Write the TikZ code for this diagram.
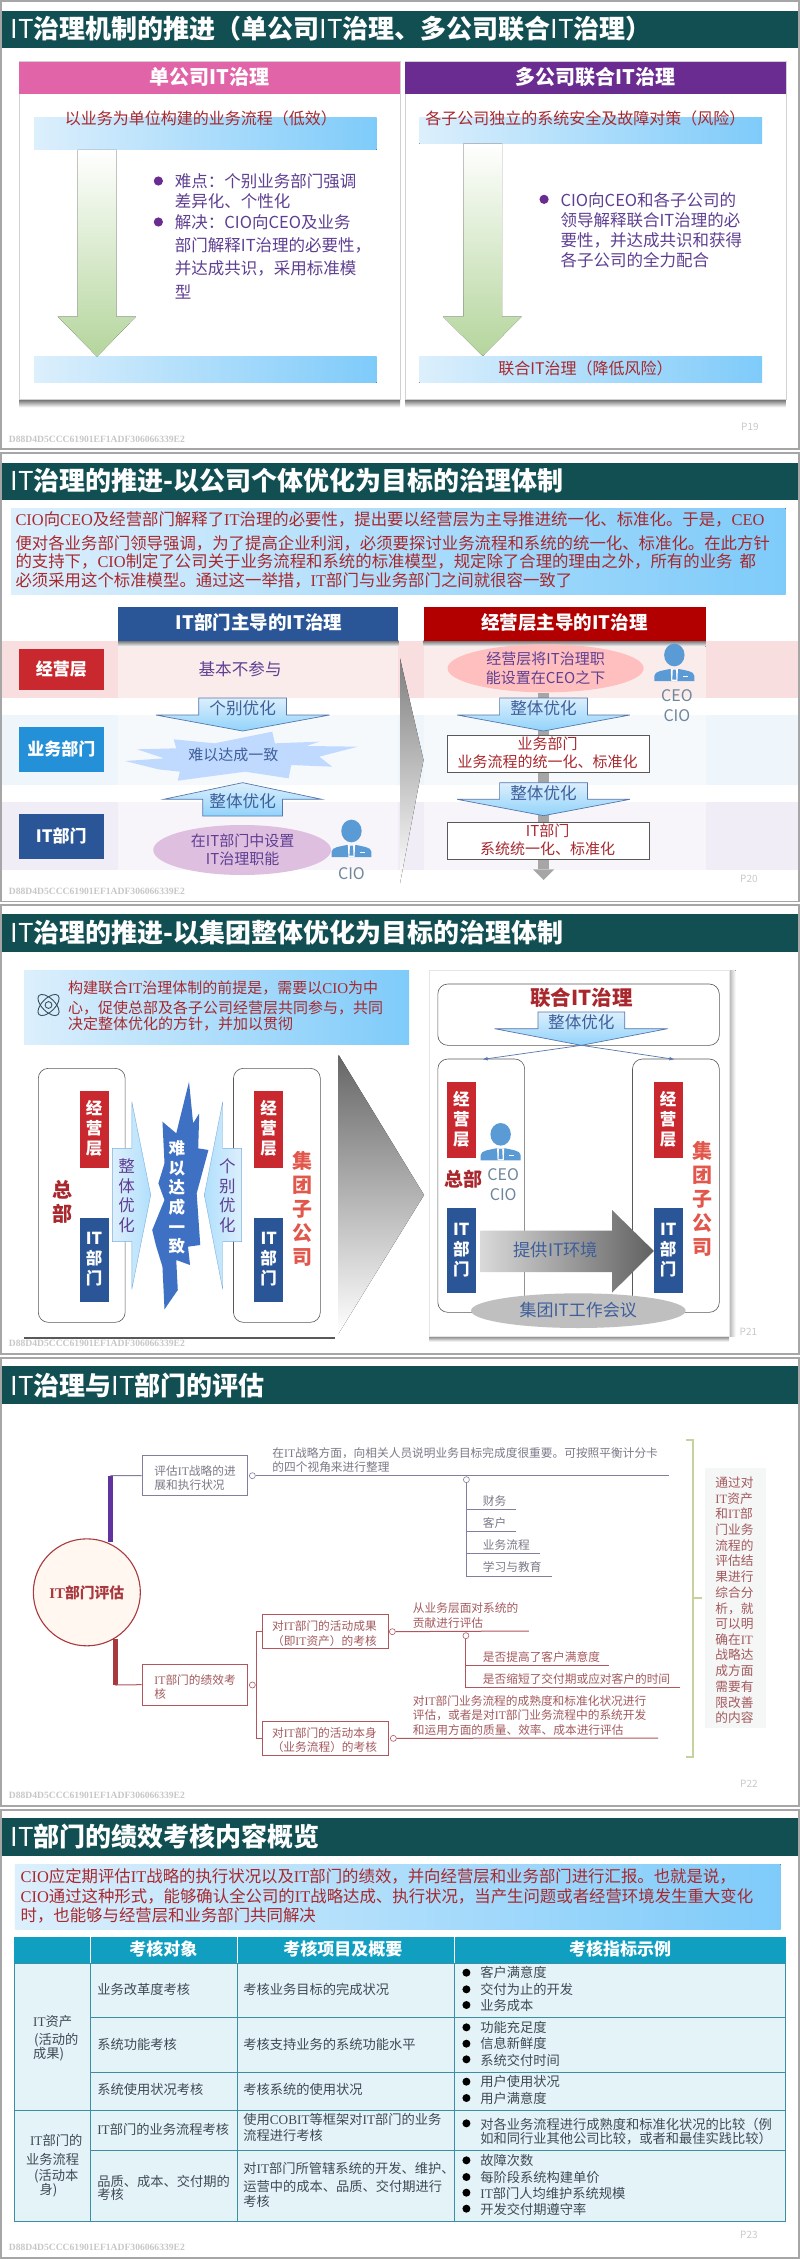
\documentclass[tikz,border=0pt]{standalone}
\usepackage{fontspec}
\setmainfont{Noto Sans CJK SC}
\newfontfamily\latf{Liberation Serif}
\usetikzlibrary{shapes.geometric,fit,calc}
\definecolor{titlebar}{HTML}{124F53}
\definecolor{frameg}{HTML}{A6A6A6}
\definecolor{pnkh}{HTML}{E264A8}
\definecolor{purh}{HTML}{6A2C91}
\definecolor{barl}{HTML}{DCEFFC}
\definecolor{barr}{HTML}{7ECBFA}
\definecolor{redt}{HTML}{A8282E}
\definecolor{purt}{HTML}{5F3F92}
\definecolor{navy}{HTML}{2A5597}
\definecolor{bluet}{HTML}{3F5F9A}
\definecolor{grn}{HTML}{B4D59C}
\definecolor{redb}{HTML}{C8282E}
\definecolor{corp}{HTML}{E2574C}
\definecolor{persn}{HTML}{5B9BD5}
\definecolor{gryt}{HTML}{7A7A88}
\definecolor{redg}{HTML}{A35A5E}
\definecolor{lnpur}{HTML}{7F7F9F}
\definecolor{lnred}{HTML}{B0565C}
\definecolor{rootr}{HTML}{A8393E}
\definecolor{tealh}{HTML}{109FC0}
\definecolor{tbody}{HTML}{E4F3F7}
\definecolor{tline}{HTML}{3A8FA3}
\definecolor{tabt}{HTML}{3F4A55}
\definecolor{thnc}{HTML}{70869C}
\definecolor{band1}{HTML}{F8DEDE}
\definecolor{band2}{HTML}{EEF5FB}
\definecolor{band3}{HTML}{F1EDF7}
\definecolor{burst}{HTML}{3E71C3}
\definecolor{atomc}{HTML}{37505F}
\definecolor{olv}{HTML}{C4D29B}
\newcommand\fz[1]{\fontsize{#1}{#1}\selectfont}
\newcommand\la[1]{{\latf #1}}
\tikzset{
  zs/.style={x=0.51086pt,y=-0.33333pt},
  lt/.style={anchor=west,inner sep=0pt},
  ct/.style={inner sep=0pt},
  ttl/.style={lt,white,font=\fz{26}\bfseries},
  pgnum/.style={ct,frameg!60,font=\fz{10}},
  wmk/.style={lt,black!22,font=\latf\bfseries\fz{9.6}},
  hdr/.style={ct,white,font=\fz{20}\bfseries},
  s1red/.style={ct,redt,font=\fz{16}},
  s1pur/.style={lt,purt,font=\fz{16.5}},
  bararrow/.style={draw=#1,line width=.7pt,top color=barl,bottom color=barr!85!white},
  arlab/.style={ct,bluet,font=\fz{16.6}},
  rowl/.style={ct,white,font=\fz{17}\bfseries},
  para/.style={lt,redt,font=\fz{16.4}},
  thn/.style={ct,thnc,font=\fz{16}},
  txa/.style={ct,purt,font=\fz{15}},
  txb/.style={ct,redt,font=\fz{15}},
  hd2/.style={ct,white,font=\fz{18.5}\bfseries},
  vert/.style={ct,align=center,white,font=\fontsize{16.5}{20}\selectfont\bfseries},
  vbig/.style={ct,align=center,font=\fontsize{20}{24}\selectfont\bfseries},
  rnd/.style={draw=black!65,line width=.6pt,rounded corners=10pt},
  sg/.style={lt,gryt,font=\fz{11.7}},
  sr/.style={lt,redg,font=\fz{11.7}},
  sc/.style={ct,redg,font=\fz{11.7}},
  bx/.style={inner sep=0pt,line width=1pt,fit={#1}},
  tb/.style={lt,tabt,font=\fz{13.25}},
  tc/.style={ct,tabt,font=\fz{13.25}},
  th/.style={ct,white,font=\fz{17}\bfseries},
  side/.style={lt,redg,font=\fz{12.7}},
  p3/.style={lt,redt,font=\fz{15}},
  dot/.style={circle,draw=#1,fill=white,minimum size=6pt,inner sep=0pt,line width=.6pt},
}
\newcommand\person[2]{%
  \begin{scope}[shift={(#1,#2)}]
    \fill[persn] (0,0) ellipse [x radius=20,y radius=34];
    \fill[persn] (-39,78) -- (-39,62) .. controls (-39,48) and (-20,46) .. (-9,42) -- (9,42) .. controls (20,46) and (39,48) .. (39,62) -- (39,78) -- cycle;
    \fill[white] (-7,42) -- (7,42) -- (6,78) -- (-6,78) -- cycle;
    \fill[persn] (-3,44) -- (3,44) -- (4,74) -- (-4,74) -- cycle;
    \fill[white] (17,62) rectangle (27,65);
  \end{scope}}
\newcommand\bull[3]{\fill[#1] (#2,#3) circle [radius=4.6pt];}
\newcommand\blt[2]{\fill[black] (#1,#2) circle [radius=4pt];}
\begin{document}
\begin{tikzpicture}[x=1pt,y=1pt]
\useasboundingbox (0,0) rectangle (800,-2259);
\fill[white] (0,0) rectangle (800,-2259);
% ---------- frames
\draw[frameg,line width=1.8pt] (1,-1) rectangle (799,-449);
\draw[frameg,line width=1.8pt] (1,-453) rectangle (799,-901.5);
\draw[frameg,line width=1.8pt] (1,-905) rectangle (799,-1354);
\draw[frameg,line width=1.8pt] (1,-1358) rectangle (799,-1806);
\draw[frameg,line width=1.8pt] (1,-1810) rectangle (799,-2258);
% ========== SLIDE 1
\begin{scope}[zs]
\fill[titlebar] (4,32) rectangle (1562,145);
\node[ttl] (s1title) at (20,85) {{\mdseries IT}治理机制的推进（单公司{\mdseries IT}治理、多公司联合{\mdseries IT}治理）};
\fill[top color=black!60,bottom color=white] (38,1197) rectangle (783,1222);
\fill[top color=black!60,bottom color=white] (793,1197) rectangle (1538,1222);
\draw[black!18,fill=white] (38,185) rectangle (783,1197);
\draw[black!18,fill=white] (793,185) rectangle (1538,1197);
\fill[pnkh] (38,185) rectangle (783,282);
\fill[purh] (793,185) rectangle (1538,282);
\node[hdr] (s1ha) at (410,230) {单公司IT治理};
\node[hdr] (s1hb) at (1165,230) {多公司联合IT治理};
\fill[left color=barl,right color=barr] (67,353) rectangle (737,450);
\fill[left color=barl,right color=barr] (67,1071) rectangle (737,1148);
\fill[left color=barl,right color=barr] (821,353) rectangle (1492,431);
\fill[left color=barl,right color=barr] (821,1071) rectangle (1492,1148);
\fill[top color=white,bottom color=grn] (152,450) -- (228,450) -- (228,950) -- (266,950) -- (190,1070) -- (113,950) -- (152,950) -- cycle;
\fill[top color=white,bottom color=grn] (907,431) -- (983,431) -- (983,950) -- (1021,950) -- (945,1068) -- (867,950) -- (907,950) -- cycle;
\node[s1red] (s1a) at (393,355) {以业务为单位构建的业务流程（低效）};
\node[s1red] (s1b) at (1146,355) {各子公司独立的系统安全及故障对策（风险）};
\node[s1red] (s1c) at (1146,1105) {联合IT治理（降低风险）};
\bull{purh}{310}{543}
\bull{purh}{310}{666}
\bull{purh}{1065}{598}
\node[s1pur] (s1l1) at (342,545) {难点：个别业务部门强调};
\node[s1pur] (s1l2) at (342,603) {差异化、个性化};
\node[s1pur] (s1l3) at (342,668) {解决：CIO向CEO及业务};
\node[s1pur] (s1l4) at (342,737) {部门解释IT治理的必要性，};
\node[s1pur] (s1l5) at (342,806) {并达成共识，采用标准模};
\node[s1pur] (s1l6) at (342,876) {型};
\node[s1pur] (s1r1) at (1097,600) {CIO向CEO和各子公司的};
\node[s1pur] (s1r2) at (1097,660) {领导解释联合IT治理的必};
\node[s1pur] (s1r3) at (1097,720) {要性，并达成共识和获得};
\node[s1pur] (s1r4) at (1097,780) {各子公司的全力配合};
\node[pgnum] (s1p) at (1468,1281) {P19};
\node[wmk] (s1w) at (17,1318) {D88D4D5CCC61901EF1ADF306066339E2};
\end{scope}
% ========== SLIDE 2
\begin{scope}[zs,yshift=-450pt]
\fill[titlebar] (4,38) rectangle (1562,150);
\node[ttl] (s2title) at (20,92) {{\mdseries IT}治理的推进-以公司个体优化为目标的治理体制};
\fill[left color=barl,right color=barr] (22,175) rectangle (1538,432);
\node[para] (s2p1) at (30,208) {\la{CIO}向\la{CEO}及经营部门解释了\la{IT}治理的必要性，提出要以经营层为主导推进统一化、标准化。于是，\la{CEO}};
\node[para] (s2p2) at (30,280) {便对各业务部门领导强调，为了提高企业利润，必须要探讨业务流程和系统的统一化、标准化。在此方针};
\node[para] (s2p3) at (30,335) {的支持下，\la{CIO}制定了公司关于业务流程和系统的标准模型，规定除了合理的理由之外，所有的业务\hspace*{7pt}都};
\node[para] (s2p4) at (30,390) {必须采用这个标准模型。通过这一举措，\la{IT}部门与业务部门之间就很容一致了};
% bands
\fill[band1] (4,572) rectangle (1562,745);
\fill[band2] (4,795) rectangle (1562,1005);
\fill[band3] (4,1055) rectangle (1562,1260);
\fill[white,opacity=.45] (231,572) rectangle (780,1300);
\fill[white,opacity=.45] (829,572) rectangle (1381,1300);
% headers
\fill[top color=black!55,bottom color=white] (231,572) rectangle (780,590);
\fill[top color=black!55,bottom color=white] (829,572) rectangle (1381,590);
\fill[navy] (231,472) rectangle (780,572);
\fill[red!70!black] (829,472) rectangle (1381,572);
\node[hd2] (s2ha) at (507,517) {IT部门主导的IT治理};
\node[hd2] (s2hb) at (1105,517) {经营层主导的IT治理};
\fill[redb] (38,596) rectangle (203,719);
\fill[cyan!70!blue!90!white] (38,831) rectangle (203,967);
\fill[navy] (38,1092) rectangle (203,1227);
\node[rowl] (s2r1) at (120,657) {经营层};
\node[rowl] (s2r2) at (120,897) {业务部门};
\node[rowl] (s2r3) at (120,1157) {IT部门};
% left column
\node[ct,purt,font=\fz{16.6}] (s2n) at (470,657) {基本不参与};
\path[bararrow=navy!80] (389,744) -- (561,744) -- (561,795) -- (645,795) -- (475,843) -- (305,795) -- (389,795) -- cycle;
\node[arlab] (s2a1) at (475,775) {个别优化};
\fill[blue!60!cyan!25!white] (245,933) -- (322,925) -- (268,898) -- (345,895) -- (340,868) -- (420,880) -- (533,845) -- (538,880) -- (625,875) -- (600,888) -- (700,890) -- (625,920) -- (650,950) -- (570,945) -- (565,985) -- (480,965) -- (348,992) -- (352,965) -- (310,958) -- cycle;
\node[ct,bluet,font=\fz{15}] (s2b) at (457,915) {难以达成一致};
\path[bararrow=navy!80] (475,998) -- (630,1048) -- (553,1048) -- (553,1098) -- (397,1098) -- (397,1048) -- (320,1048) -- cycle;
\node[arlab] (s2a2) at (475,1053) {整体优化};
\fill[violet!25!white] (474,1200) ellipse [x radius=174,y radius=75];
\node[txa] (s2e1) at (475,1172) {在IT部门中设置};
\node[txa] (s2e2) at (475,1225) {IT治理职能};
\person{688}{1143}
\node[thn] (s2c) at (688,1272) {CIO};
% chevron
\fill[top color=black!50,bottom color=white] (783,625) -- (829,930) -- (783,1300) -- cycle;
% right column
\fill[black!35] (1053,730) rectangle (1075,1258);
\fill[black!35] (1043,1258) -- (1085,1258) -- (1064,1290) -- cycle;
\fill[red!25!white] (1068,655) ellipse [x radius=192,y radius=72];
\node[txa] (s2e3) at (1068,627) {经营层将IT治理职};
\node[txa] (s2e4) at (1068,682) {能设置在CEO之下};
\person{1320}{615}
\node[thn] (s2d1) at (1325,738) {CEO};
\node[thn] (s2d2) at (1325,798) {CIO};
\path[bararrow=navy!80] (978,744) -- (1150,744) -- (1150,795) -- (1233,795) -- (1064,843) -- (895,795) -- (978,795) -- cycle;
\node[arlab] (s2a3) at (1064,775) {整体优化};
\path[bararrow=navy!80] (978,998) -- (1150,998) -- (1150,1048) -- (1233,1048) -- (1064,1097) -- (895,1048) -- (978,1048) -- cycle;
\node[arlab] (s2a4) at (1064,1030) {整体优化};
\draw[black!65,fill=white,line width=.7pt] (875,856) rectangle (1271,968);
\draw[black!65,fill=white,line width=.7pt] (875,1116) rectangle (1271,1228);
\node[txb] (s2f1) at (1072,882) {业务部门};
\node[txb] (s2f2) at (1072,935) {业务流程的统一化、标准化};
\node[txb] (s2f3) at (1072,1142) {IT部门};
\node[txb] (s2f4) at (1072,1195) {系统统一化、标准化};
\node[pgnum] (s2p) at (1466,1288) {P20};
\node[wmk] (s2w) at (17,1325) {D88D4D5CCC61901EF1ADF306066339E2};
\end{scope}
% ========== SLIDE 3
\begin{scope}[zs,yshift=-900pt]
\fill[titlebar] (4,42) rectangle (1562,157);
\node[ttl] (s3title) at (20,98) {{\mdseries IT}治理的推进-以集团整体优化为目标的治理体制};
\fill[left color=barl,right color=barr] (47,210) rectangle (801,434);
\begin{scope}[shift={(95,315)},x=1pt,y=1pt,atomc,line width=.9pt]
  \draw (0,0) circle [radius=3.4];
  \draw[rotate=45] (0,0) ellipse [x radius=13.5,y radius=6.5];
  \draw[rotate=-45] (0,0) ellipse [x radius=13.5,y radius=6.5];
\end{scope}
\node[p3] (s3p1) at (133,263) {构建联合\la{IT}治理体制的前提是，需要以\la{CIO}为中};
\node[p3] (s3p2) at (133,323) {心，促使总部及各子公司经营层共同参与，共同};
\node[p3] (s3p3) at (133,372) {决定整体优化的方针，并加以贯彻};
% left panel
\fill[black!65] (47,1308) rectangle (655,1316);
\fill[white] (47,460) rectangle (655,1310);
\draw[rnd] (75,505) rectangle (245,1267);
\draw[rnd] (457,505) rectangle (627,1267);
\fill[redb] (156,573) rectangle (213,803);
\fill[navy] (156,954) rectangle (213,1207);
\fill[redb] (497,573) rectangle (554,803);
\fill[navy] (497,954) rectangle (554,1207);
\node[vert] (s3a1) at (184,685) {经\\营\\层};
\node[vert] (s3a2) at (184,1078) {IT\\部\\门};
\node[vert] (s3a3) at (526,685) {经\\营\\层};
\node[vert] (s3a4) at (526,1078) {IT\\部\\门};
\node[vbig,redt] (s3zb) at (122,907) {总\\部};
\node[vbig,corp] (s3jt) at (592,927) {集\\团\\子\\公\\司};
\path[draw=persn!80,left color=barl,right color=barr!60!white] (220,745) -- (258,745) -- (258,605) -- (295,885) -- (258,1168) -- (258,1025) -- (220,1025) -- cycle;
\path[draw=persn!80,left color=barr!60!white,right color=barl] (473,745) -- (436,745) -- (436,605) -- (400,885) -- (436,1168) -- (436,1025) -- (473,1025) -- cycle;
\node[ct,align=center,purt,font=\fontsize{16.5}{19.4}\selectfont] (s3y1) at (248,887) {整\\体\\优\\化};
\node[ct,align=center,purt,font=\fontsize{16.5}{19.4}\selectfont] (s3y2) at (445,887) {个\\别\\优\\化};
\fill[burst] (370,545) -- (378,670) -- (390,640) -- (388,745) -- (408,750) -- (385,880) -- (392,1035) -- (368,1040) -- (372,1095) -- (345,1080) -- (348,1170) -- (322,1228) -- (318,1100) -- (305,1035) -- (298,990) -- (322,900) -- (310,850) -- (322,790) -- (318,665) -- (345,700) -- cycle;
\node[ct,align=center,white,font=\fontsize{16.5}{19.7}\selectfont\bfseries] (s3d) at (346,892) {难\\以\\达\\成\\一\\致};
\fill[top color=black!60,bottom color=white] (663,465) -- (830,885) -- (663,1300) -- cycle;
% right panel
\fill[top color=black!50,bottom color=white] (840,1308) rectangle (1427,1325);
\fill[left color=black!30,right color=white] (1427,210) rectangle (1440,1308);
\fill[white] (840,210) rectangle (1427,1308);
\draw[black!10] (840,210) rectangle (1427,1308);
\draw[rnd] (857,252) rectangle (1408,436);
\draw[rnd] (857,477) rectangle (1027,1237);
\draw[rnd] (1238,477) rectangle (1408,1237);
\node[ct,redt,font=\fz{20.5}\bfseries] (s3u) at (1138,293) {联合IT治理};
\path[bararrow=navy!80] (1053,336) -- (1223,336) -- (1223,386) -- (1307,386) -- (1138,436) -- (968,386) -- (1053,386) -- cycle;
\node[arlab] (s3u2) at (1138,368) {整体优化};
\coordinate (s3c) at (1138,436);
\coordinate (s3c1) at (945,478);
\coordinate (s3c2) at (1320,478);
\draw[navy!80,line width=.7pt,-latex] (s3c) -- (s3c1);
\draw[navy!80,line width=.7pt,-latex] (s3c) -- (s3c2);
\fill[redb] (875,545) rectangle (932,775);
\fill[navy] (875,925) rectangle (932,1178);
\fill[redb] (1280,545) rectangle (1336,775);
\fill[navy] (1280,925) rectangle (1336,1178);
\node[vert] (s3b1) at (903,657) {经\\营\\层};
\node[vert] (s3b2) at (903,1050) {IT\\部\\门};
\node[vert] (s3b3) at (1308,657) {经\\营\\层};
\node[vert] (s3b4) at (1308,1050) {IT\\部\\门};
\person{980}{703}
\node[thn] (s3g1) at (985,825) {CEO};
\node[thn] (s3g2) at (985,885) {CIO};
\node[ct,redt,font=\fz{19}\bfseries] (s3zb2) at (908,838) {总部};
\node[vbig,corp] (s3jt2) at (1375,897) {集\\团\\子\\公\\司};
\path[left color=black!15,right color=black!62] (941,992) -- (1198,992) -- (1198,930) -- (1280,1053) -- (1198,1178) -- (1198,1116) -- (941,1116) -- cycle;
\node[ct,bluet,font=\fz{17.3}] (s3v) at (1088,1050) {提供IT环境};
\fill[black!25] (1132,1232) ellipse [x radius=210,y radius=52];
\node[ct,bluet,font=\fz{17}] (s3w) at (1132,1230) {集团IT工作会议};
\node[pgnum] (s3p) at (1465,1295) {P21};
\node[wmk] (s3wm) at (17,1330) {D88D4D5CCC61901EF1ADF306066339E2};
\end{scope}
% ========== SLIDE 4
\begin{scope}[zs,yshift=-1350pt]
\fill[titlebar] (4,48) rectangle (1562,162);
\node[ttl] (s4title) at (20,105) {{\mdseries IT}治理与{\mdseries IT}部门的评估};
\node[circle,draw=rootr,line width=1.1pt,fill=orange!6!white,minimum size=107pt,inner sep=0pt,text=rootr,font=\fz{14.8}\bfseries] (root) at (170,727) {\la{IT}部门评估};
\coordinate (b1nw) at (278,316); \coordinate (b1se) at (485,437);
\coordinate (b2nw) at (278,943); \coordinate (b2se) at (485,1065);
\coordinate (b3nw) at (513,793); \coordinate (b3se) at (760,895);
\coordinate (b4nw) at (513,1113); \coordinate (b4se) at (760,1216);
\node[bx={(b1nw)(b1se)},draw=lnpur] (b1) {};
\node[bx={(b2nw)(b2se)},draw=lnred] (b2) {};
\node[bx={(b3nw)(b3se)},draw=lnred] (b3) {};
\node[bx={(b4nw)(b4se)},draw=lnred] (b4) {};
\coordinate (tp1) at (216,575); \coordinate (tp2) at (216,377);
\coordinate (tp3) at (226,868); \coordinate (tp4) at (226,1005);
\draw[violet!60!blue!60!gray,line width=5.5pt] (tp1) -- (tp2);
\draw[rootr,line width=5.5pt] (tp3) -- (tp4);
\draw[lnpur,line width=1pt] (tp2) -- (b1.west);
\draw[lnred,line width=1pt] (tp4) -- (b2.west);
% top branch
\node[dot=lnpur] (d1) at (494,377) {};
\coordinate (e1) at (1310,377);
\draw[lnpur,line width=1pt] (d1) -- (e1);
\node[dot=lnpur] (d2) at (913,389) {};
\coordinate (v1) at (913,478); \coordinate (v2) at (913,545); \coordinate (v3) at (913,611); \coordinate (v4) at (913,678);
\coordinate (h1) at (1010,478); \coordinate (h2) at (1010,545); \coordinate (h3) at (1057,611); \coordinate (h4) at (1080,678);
\draw[lnpur,line width=1pt] (d2) -- (v4) -- (h4);
\draw[lnpur,line width=1pt] (v1) -- (h1);
\draw[lnpur,line width=1pt] (v2) -- (h2);
\draw[lnpur,line width=1pt] (v3) -- (h3);
\node[sg] (s4a) at (302,362) {评估\la{IT}战略的进};
\node[sg] (s4b) at (302,405) {展和执行状况};
\node[sg] (s4c) at (533,308) {在\la{IT}战略方面，向相关人员说明业务目标完成度很重要。可按照平衡计分卡};
\node[sg] (s4d) at (533,350) {的四个视角来进行整理};
\node[sg] (s4e) at (945,453) {财务};
\node[sg] (s4f) at (945,519) {客户};
\node[sg] (s4g) at (945,586) {业务流程};
\node[sg] (s4h) at (945,652) {学习与教育};
% bottom branch
\node[dot=lnred] (d3) at (494,1005) {};
\coordinate (w0) at (503,1005); \coordinate (w1) at (503,843); \coordinate (w2) at (503,1165);
\draw[lnred,line width=1pt] (d3) -- (w0);
\draw[lnred,line width=1pt] (b3.west |- w1) -- (w1) -- (w2) -- (b4.west |- w2);
\node[dot=lnred] (d4) at (768,845) {};
\coordinate (e2) at (1035,843);
\draw[lnred,line width=1pt] (d4) -- (e2);
\node[dot=lnred] (d5) at (912,857) {};
\coordinate (x1) at (912,945); \coordinate (x2) at (912,1012); \coordinate (y1) at (1193,945); \coordinate (y2) at (1332,1012);
\draw[lnred,line width=1pt] (d5) -- (x2) -- (y2);
\draw[lnred,line width=1pt] (x1) -- (y1);
\node[dot=lnred] (d6) at (770,1165) {};
\coordinate (e3) at (1288,1164);
\draw[lnred,line width=1pt] (d6) -- (e3);
\node[sr] (s4i) at (302,990) {\la{IT}部门的绩效考};
\node[sr] (s4j) at (302,1033) {核};
\node[sc] (s4k) at (635,829) {对\la{IT}部门的活动成果};
\node[sc] (s4l) at (635,872) {（即\la{IT}资产）的考核};
\node[sc] (s4m) at (635,1150) {对\la{IT}部门的活动本身};
\node[sc] (s4n) at (635,1192) {（业务流程）的考核};
\node[sr] (s4o) at (808,775) {从业务层面对系统的};
\node[sr] (s4q) at (808,820) {贡献进行评估};
\node[sr] (s4r) at (945,920) {是否提高了客户满意度};
\node[sr] (s4s) at (945,988) {是否缩短了交付期或应对客户的时间};
\node[sr] (s4t) at (808,1052) {对\la{IT}部门业务流程的成熟度和标准化状况进行};
\node[sr] (s4u) at (808,1097) {评估，或者是对\la{IT}部门业务流程中的系统开发};
\node[sr] (s4v) at (808,1140) {和运用方面的质量、效率、成本进行评估};
% bracket
\coordinate (k1) at (1343,270); \coordinate (k2) at (1357,270); \coordinate (k3) at (1357,1222); \coordinate (k4) at (1343,1222);
\coordinate (k5) at (1357,745); \coordinate (k6) at (1375,745);
\draw[olv,line width=2pt] (k1) -- (k2) -- (k3) -- (k4);
\draw[olv,line width=2pt] (k5) -- (k6);
\fill[cyan!6!gray!8!white] (1380,355) rectangle (1500,1133);
\node[side] (q1) at (1400,398) {通过对};
\node[side] (q2) at (1400,445) {\la{IT}资产};
\node[side] (q3) at (1400,492) {和\la{IT}部};
\node[side] (q4) at (1400,540) {门业务};
\node[side] (q5) at (1400,587) {流程的};
\node[side] (q6) at (1400,632) {评估结};
\node[side] (q7) at (1400,680) {果进行};
\node[side] (q8) at (1400,727) {综合分};
\node[side] (q9) at (1400,775) {析，就};
\node[side] (q10) at (1400,822) {可以明};
\node[side] (q11) at (1400,868) {确在\la{IT}};
\node[side] (q12) at (1400,915) {战略达};
\node[side] (q13) at (1400,962) {成方面};
\node[side] (q14) at (1400,1010) {需要有};
\node[side] (q15) at (1400,1057) {限改善};
\node[side] (q16) at (1400,1103) {的内容};
\node[pgnum] (s4p) at (1466,1300) {P22};
\node[wmk] (s4w) at (17,1337) {D88D4D5CCC61901EF1ADF306066339E2};
\end{scope}
% ========== SLIDE 5
\begin{scope}[zs,yshift=-1800pt]
\fill[titlebar] (4,55) rectangle (1562,168);
\node[ttl] (s5title) at (20,110) {{\mdseries IT}部门的绩效考核内容概览};
\fill[left color=barl,right color=barr] (29,192) rectangle (1528,388);
\node[para] (s5p1) at (40,228) {\la{CIO}应定期评估\la{IT}战略的执行状况以及\la{IT}部门的绩效，并向经营层和业务部门进行汇报。也就是说，};
\node[para] (s5p2) at (40,288) {\la{CIO}通过这种形式，能够确认全公司的\la{IT}战略达成、执行状况，当产生问题或者经营环境发生重大变化};
\node[para] (s5p3) at (40,347) {时，也能够与经营层和业务部门共同解决};
% table
\fill[tbody] (28,490) rectangle (1538,1263);
\fill[tealh] (28,410) rectangle (1538,490);
\draw[tline,line width=.9pt] (28,1263) -- (1538,1263);
\draw[tline,line width=.9pt] (28,930) -- (1538,930);
\draw[tline,line width=.9pt] (28,490) -- (1538,490);
\draw[tline,line width=.9pt] (177,653) -- (1538,653);
\draw[tline,line width=.9pt] (177,816) -- (1538,816);
\draw[tline,line width=.9pt] (177,1051) -- (1538,1051);
\draw[white,line width=.8pt] (177,410) -- (177,490);
\draw[white,line width=.8pt] (464,410) -- (464,490);
\draw[white,line width=.8pt] (890,410) -- (890,490);
\draw[tline,line width=.9pt] (177,490) -- (177,1263);
\draw[tline,line width=.9pt] (464,490) -- (464,1263);
\draw[tline,line width=.9pt] (890,490) -- (890,1263);
\draw[tline,line width=.9pt] (28,490) -- (28,1263);
\draw[tline,line width=.9pt] (1538,490) -- (1538,1263);
\node[th] (th1) at (320,447) {考核对象};
\node[th] (th2) at (671,447) {考核项目及概要};
\node[th] (th3) at (1214,447) {考核指标示例};
\node[tc] (c1) at (103,663) {\la{IT}资产};
\node[tc] (c2) at (110,720) {(活动的};
\node[tc] (c3) at (95,763) {成果)};
\node[tc] (c4) at (110,1022) {\la{IT}部门的};
\node[tc] (c5) at (103,1078) {业务流程};
\node[tc] (c6) at (110,1130) {(活动本};
\node[tc] (c7) at (95,1170) {身)};
\node[tb] (k11) at (190,568) {业务改革度考核};
\node[tb] (k12) at (190,732) {系统功能考核};
\node[tb] (k13) at (190,868) {系统使用状况考核};
\node[tb] (k14) at (190,987) {\la{IT}部门的业务流程考核};
\node[tb] (k15) at (190,1143) {品质、成本、交付期的};
\node[tb] (k16) at (190,1184) {考核};
\node[tb] (m1) at (476,568) {考核业务目标的完成状况};
\node[tb] (m2) at (476,732) {考核支持业务的系统功能水平};
\node[tb] (m3) at (476,868) {考核系统的使用状况};
\node[tb] (m4) at (476,957) {使用\la{COBIT}等框架对\la{IT}部门的业务};
\node[tb] (m5) at (476,1007) {流程进行考核};
\node[tb] (m6) at (476,1105) {对\la{IT}部门所管辖系统的开发、维护、};
\node[tb] (m7) at (476,1160) {运营中的成本、品质、交付期进行};
\node[tb] (m8) at (476,1205) {考核};
\blt{913}{518}\blt{913}{568}\blt{913}{615}\blt{913}{682}\blt{913}{731}\blt{913}{778}\blt{913}{845}\blt{913}{894}\blt{913}{970}\blt{913}{1081}\blt{913}{1131}\blt{913}{1178}\blt{913}{1226}
\node[tb] (n1) at (940,518) {客户满意度};
\node[tb] (n2) at (940,568) {交付为止的开发};
\node[tb] (n3) at (940,617) {业务成本};
\node[tb] (n4) at (940,682) {功能充足度};
\node[tb] (n5) at (940,731) {信息新鲜度};
\node[tb] (n6) at (940,780) {系统交付时间};
\node[tb] (n7) at (940,845) {用户使用状况};
\node[tb] (n8) at (940,894) {用户满意度};
\node[tb] (n9) at (940,972) {对各业务流程进行成熟度和标准化状况的比较（例};
\node[tb] (n10) at (940,1015) {如和同行业其他公司比较，或者和最佳实践比较）};
\node[tb] (n11) at (940,1081) {故障次数};
\node[tb] (n12) at (940,1131) {每阶段系统构建单价};
\node[tb] (n13) at (940,1180) {\la{IT}部门人均维护系统规模};
\node[tb] (n14) at (940,1228) {开发交付期遵守率};
\node[pgnum] (s5p) at (1466,1305) {P23};
\node[wmk] (s5w) at (17,1342) {D88D4D5CCC61901EF1ADF306066339E2};
\end{scope}
\end{tikzpicture}
\end{document}
